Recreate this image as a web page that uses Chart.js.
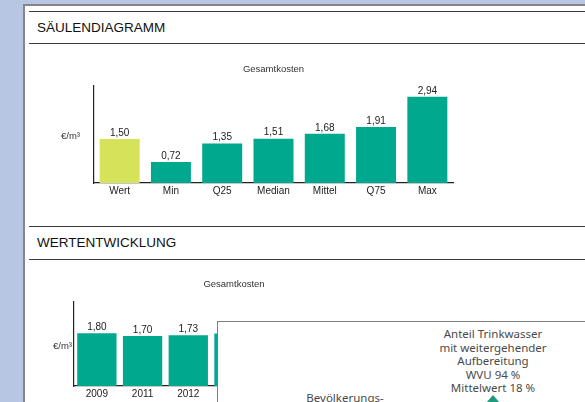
<!DOCTYPE html>
<html>
<head>
<meta charset="utf-8">
<script src="https://cdn.jsdelivr.net/npm/chart.js@4/dist/chart.umd.min.js"></script>
<style>
  html, body { margin: 0; padding: 0; }
  body { width: 585px; height: 402px; background: #b7c6e2; position: relative; overflow: hidden; font-family: "Liberation Sans", Arial, sans-serif; }
  #page { position: absolute; left: 23px; top: 4px; width: 570px; height: 410px; background: #fff; border-left: 2px solid #858585; border-top: 2px solid #858585; }
  .rule { position: absolute; left: 29px; width: 556px; height: 0; border-top: 1.5px solid #3a3a3a; }
  .head { position: absolute; left: 37px; font-size: 13.5px; color: #111; }
  canvas { position: absolute; left: 0; }
  #overlay { position: absolute; left: 217px; top: 321px; width: 400px; height: 100px; background: #fff; border: 1.5px solid #7d7d7d; z-index: 5; font-family: "Noto Sans", "Open Sans", sans-serif; color: #4a4a4a; font-size: 11.5px; }
  #overlay .t { position: absolute; text-align: center; line-height: 13.6px; }
  #marker { position: absolute; left: 268px; top: 73px; width: 0; height: 0; border-left: 7px solid transparent; border-right: 7px solid transparent; border-bottom: 8px solid #1e9a7c; }
</style>
</head>
<body>
<div id="page"></div>
<div class="rule" style="top:11px"></div>
<div class="head" style="top:20px">SÄULENDIAGRAMM</div>
<div class="rule" style="top:43px"></div>
<canvas id="c1" width="585" height="150" style="top:50px;width:585px;height:150px"></canvas>
<div class="rule" style="top:226px"></div>
<div class="head" style="top:235px">WERTENTWICKLUNG</div>
<div class="rule" style="top:259px"></div>
<canvas id="c2" width="585" height="137" style="top:265px;width:585px;height:137px"></canvas>
<div id="overlay">
  <div class="t" style="left:185px;width:180px;top:5px">Anteil Trinkwasser<br>mit weitergehender<br>Aufbereitung<br>WVU 94 %<br>Mittelwert 18 %</div>
  <div class="t" style="left:67px;width:120px;top:69px">Bevölkerungs-</div>
  <div id="marker"></div>
</div>
<script>
// Säulendiagramm
const statLabels = ['Wert', 'Min', 'Q25', 'Median', 'Mittel', 'Q75', 'Max'];
const statValues = [1.50, 0.72, 1.35, 1.51, 1.68, 1.91, 2.94];

// Wertentwicklung (Jahre hinter dem Overlay nicht lesbar)
const yearLabels = ['2009', '2011', '2012', '2013', '2014', '2015', '2016'];
const yearValues = [1.80, 1.70, 1.73, 1.79, null, null, null];

const unitLabel = '€/m³';
const chartTitle = 'Gesamtkosten';

const teal = '#00a88e';
const lime = '#d4e35a';

// Werte über den Säulen, Titel und Einheit zeichnen
const labelPlugin = {
    id: 'labelPlugin',
    afterDatasetsDraw(chart, args, opts) {
        const ctx = chart.ctx;
        const area = chart.chartArea;
        ctx.save();
        ctx.fillStyle = '#222';
        ctx.font = '10px "Liberation Sans", Arial, sans-serif';
        ctx.textAlign = 'center';
        ctx.textBaseline = 'bottom';
        chart.getDatasetMeta(0).data.forEach(function(bar, i) {
            const v = chart.data.datasets[0].data[i];
            if (v == null) return;
            ctx.fillText(v.toFixed(2).replace('.', ','), bar.x, bar.y - 1);
        });
        ctx.fillStyle = '#333';
        ctx.font = '9.5px "Liberation Sans", Arial, sans-serif';
        ctx.textBaseline = 'middle';
        ctx.fillText(chartTitle, (area.left + area.right) / 2, area.top - opts.titleGap);
        ctx.textAlign = 'right';
        ctx.fillText(unitLabel, area.left - opts.unitGap, (area.top + area.bottom) / 2 + 2);
        ctx.restore();
    }
};

function makeChart(id, labels, values, colors, yMax, pad, xHeight, opts) {
    return new Chart(document.getElementById(id).getContext('2d'), {
        type: 'bar',
        data: {
            labels: labels,
            datasets: [{
                data: values,
                backgroundColor: colors,
                borderWidth: 0,
                barPercentage: opts.barPct,
                categoryPercentage: 1
            }]
        },
        options: {
            responsive: false,
            animation: false,
            layout: { padding: pad },
            scales: {
                x: {
                    grid: { display: false, drawTicks: false },
                    border: { color: '#222', width: 1.2 },
                    ticks: { color: '#222', padding: 2, font: { size: 10, family: '"Liberation Sans", Arial, sans-serif' } },
                    afterFit: function(s) { s.height = xHeight; }
                },
                y: {
                    min: 0,
                    max: yMax,
                    grid: { display: false, drawTicks: false },
                    border: { color: '#222', width: 1.2 },
                    ticks: { display: false },
                    afterFit: function(s) { s.width = 0; }
                }
            },
            plugins: {
                legend: { display: false },
                tooltip: { enabled: false },
                labelPlugin: { titleGap: opts.titleGap, unitGap: opts.unitGap }
            }
        },
        plugins: [labelPlugin]
    });
}

const statColors = statLabels.map(function(l, i) { return i === 0 ? lime : teal; });
makeChart('c1', statLabels, statValues, statColors, 3.31,
    { left: 94, right: 132, top: 36, bottom: 0 }, 17,
    { barPct: 0.78, titleGap: 17, unitGap: 14 });

makeChart('c2', yearLabels, yearValues, teal, 2.86,
    { left: 74, right: 191, top: 37, bottom: 0 }, 16,
    { barPct: 0.86, titleGap: 18, unitGap: 2 });
</script>
</body>
</html>
